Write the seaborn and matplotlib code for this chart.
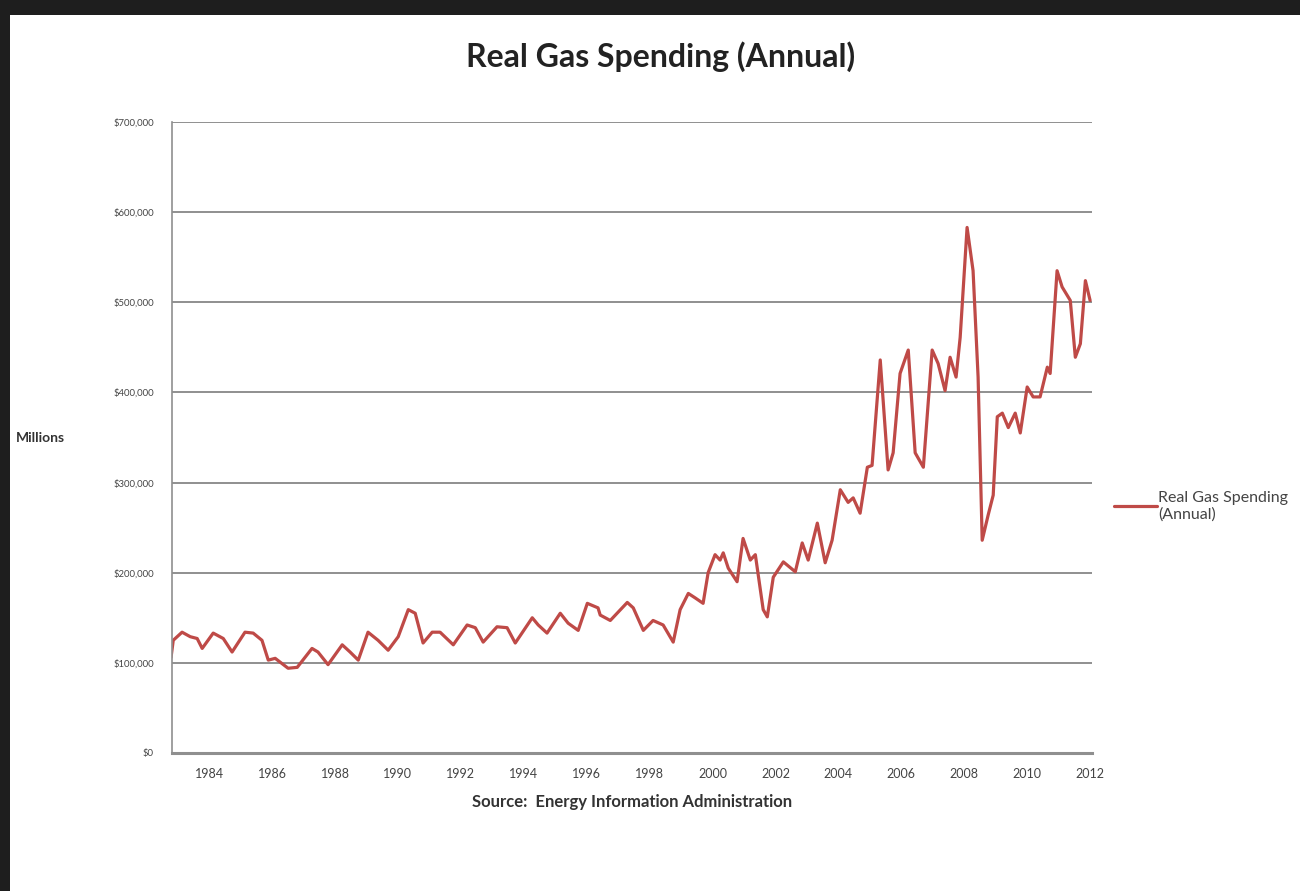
import matplotlib
matplotlib.use("Agg")
import matplotlib.pyplot as plt
import matplotlib.ticker as mticker
from matplotlib.patches import Rectangle
import seaborn as sns
import pandas as pd

# ---- data (x in decimal years, values in $ millions) ----
years = [1982.79, 1982.86, 1983.14, 1983.40, 1983.62, 1983.78, 1984.13, 1984.45, 1984.73,
         1985.14, 1985.40, 1985.68, 1985.88, 1986.10, 1986.51, 1986.80, 1987.27, 1987.46,
         1987.78, 1988.23, 1988.48, 1988.74, 1989.05, 1989.37, 1989.69, 1990.01, 1990.33,
         1990.55, 1990.80, 1991.09, 1991.34, 1991.76, 1992.20, 1992.46, 1992.71, 1993.15,
         1993.47, 1993.73, 1994.27, 1994.46, 1994.74, 1995.16, 1995.41, 1995.73, 1996.02,
         1996.36, 1996.43, 1996.75, 1997.29, 1997.48, 1997.80, 1998.11, 1998.43, 1998.75,
         1998.97, 1999.23, 1999.45, 1999.70, 1999.86, 2000.08, 2000.24, 2000.34, 2000.50,
         2000.78, 2000.97, 2001.20, 2001.36, 2001.61, 2001.74, 2001.93, 2002.25, 2002.63,
         2002.85, 2003.04, 2003.33, 2003.58, 2003.80, 2004.06, 2004.31, 2004.47, 2004.69,
         2004.92, 2005.07, 2005.33, 2005.58, 2005.74, 2005.96, 2006.22, 2006.44, 2006.70,
         2006.98, 2007.17, 2007.39, 2007.55, 2007.74, 2007.87, 2008.09, 2008.28, 2008.44,
         2008.57, 2008.76, 2008.92, 2009.05, 2009.21, 2009.40, 2009.62, 2009.78, 2010.00,
         2010.19, 2010.41, 2010.64, 2010.73, 2010.95, 2011.11, 2011.37, 2011.53, 2011.69,
         2011.85, 2012.00]
spending = [106, 125, 134, 129, 127, 116, 133, 127, 112,
            134, 133, 125, 103, 105, 94, 95, 116, 112,
            98, 120, 112, 103, 134, 125, 114, 129, 159,
            155, 122, 134, 134, 120, 142, 139, 123, 140,
            139, 122, 150, 142, 133, 155, 144, 136, 166,
            161, 153, 147, 167, 161, 136, 147, 142, 123,
            159, 177, 172, 166, 200, 220, 214, 222, 205,
            190, 238, 214, 220, 159, 151, 195, 212, 201,
            233, 214, 255, 211, 236, 292, 278, 283, 266,
            317, 319, 436, 314, 333, 421, 447, 333, 317,
            447, 432, 402, 439, 417, 461, 583, 535, 417,
            236, 264, 286, 373, 377, 361, 377, 355, 406,
            395, 395, 428, 421, 535, 517, 502, 439, 454,
            524, 502]
spending = [v * 1000 for v in spending]
year_ticks = list(range(1984, 2013, 2))
y_ticks = list(range(0, 700001, 100000))
series_name = "Real Gas Spending\n(Annual)"

df = pd.DataFrame({"Year": years, "Spending": spending, "Series": series_name})

sns.set_style("white")
plt.rcParams["font.family"] = ["Lato", "DejaVu Sans"]

fig = plt.figure(figsize=(13, 8.91), dpi=100)
fig.patch.set_facecolor("white")
# dark photo border
fig.add_artist(Rectangle((0, 0.983), 1, 0.017, transform=fig.transFigure,
                         facecolor="#1e1e1e", edgecolor="none", zorder=-5))
fig.add_artist(Rectangle((0, 0), 0.008, 1, transform=fig.transFigure,
                         facecolor="#1e1e1e", edgecolor="none", zorder=-5))

ax = fig.add_axes([0.1323, 0.1549, 0.7077, 0.7082])
sns.lineplot(data=df, x="Year", y="Spending", hue="Series",
             palette=["#BF4A47"], linewidth=2.3, ax=ax)

ax.set_xlim(1982.82, 2012.06)
ax.set_ylim(0, 700000)
ax.set_xticks(year_ticks)
ax.set_yticks(y_ticks)
ax.yaxis.set_major_formatter(mticker.FuncFormatter(lambda v, p: "${:,.0f}".format(v)))
ax.grid(axis="y", color="#8f8f8f", linewidth=1.4)
ax.grid(axis="x", visible=False)
ax.set_axisbelow(True)
for s in ["top", "right"]:
    ax.spines[s].set_visible(False)
ax.spines["left"].set_color("#8f8f8f")
ax.spines["left"].set_linewidth(1.2)
ax.spines["bottom"].set_color("#8f8f8f")
ax.spines["bottom"].set_linewidth(2.2)
ax.tick_params(axis="y", labelsize=6.8, colors="#444444", length=4, width=1,
               pad=9, color="#8f8f8f")
ax.tick_params(axis="x", labelsize=9, colors="#444444", length=3, width=1,
               pad=8, color="#8f8f8f")
ax.set_xlabel("Source:  Energy Information Administration", fontsize=12,
              fontweight="bold", color="#333333", labelpad=10)
ax.set_ylabel("")
fig.text(0.012, 0.508, "Millions", fontsize=10, fontweight="bold", color="#333333",
         ha="left", va="center")
fig.text(0.508, 0.936, "Real Gas Spending (Annual)", fontsize=23, fontweight="bold",
         color="#222222", ha="center", va="center")

leg = ax.legend(loc="center left", bbox_to_anchor=(0.846, 0.432),
                bbox_transform=fig.transFigure, frameon=False, fontsize=11.5,
                handlelength=2.7, handletextpad=0.05, labelcolor="#444444")
for h in leg.get_lines():
    h.set_linewidth(2.3)

fig.savefig("out.png", dpi=100, facecolor=fig.get_facecolor())
